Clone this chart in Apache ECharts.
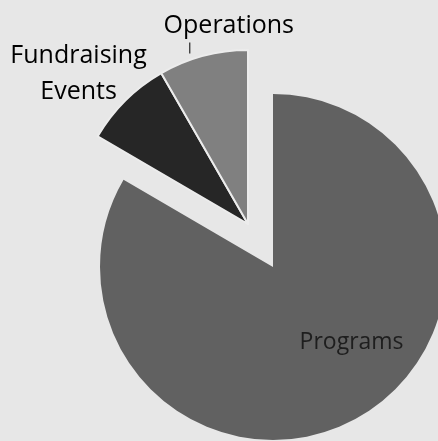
<!DOCTYPE html>
<html>
<head>
<meta charset="utf-8">
<script src="https://cdn.jsdelivr.net/npm/echarts@6/dist/echarts.min.js"></script>
<style>
html,body{margin:0;padding:0;background:#e7e7e7;}
#c{width:438px;height:441px;}
</style>
</head>
<body>
<div id="c"></div>
<script>
const categories = ['Programs', 'Fundraising Events', 'Operations'];
const values = [83.4, 8.3, 8.3];
const colors = ['#616161', '#262626', '#808080'];
const labelNames = ['Programs', 'Fundraising\nEvents', 'Operations'];

const FONT = 'Open Sans';
const FS = 25;
const chart = echarts.init(document.getElementById('c'), null, {renderer: 'canvas'});

function mainData() {
  return categories.map((c, i) => ({
    name: c, value: values[i],
    itemStyle: i === 0 ? {color: colors[i]} : {color: 'rgba(0,0,0,0)'},
    label: i === 0 ? {show: true, position: 'inside', offset: [34, -2], formatter: labelNames[i], color: '#1e1e1e', fontSize: 23, fontFamily: FONT} : {show: false}
  }));
}
function explodedData() {
  return categories.map((c, i) => {
    if (i === 0) return {name: c, value: values[i], itemStyle: {color: 'rgba(0,0,0,0)', borderWidth: 0}, label: {show: false}};
    const lab = i === 1
      ? {show: true, position: 'inside', offset: [-106, -86], formatter: labelNames[i], color: '#000', fontSize: FS, lineHeight: 36, fontFamily: FONT, align: 'center'}
      : {show: true, position: 'inside', offset: [4, -106], formatter: '{a|Operations}\n{t|}{s|}', color: '#000', fontSize: FS, fontFamily: FONT,
         rich: {a: {fontSize: FS, fontFamily: FONT, color: '#000', lineHeight: 34}, t: {width: 1, height: 11, backgroundColor: '#000'}, s: {width: 78, height: 11}}};
    return {name: c, value: values[i], itemStyle: {color: colors[i], borderColor: '#ececec', borderWidth: 2}, label: lab};
  });
}

chart.setOption({
  backgroundColor: '#e7e7e7',
  animation: false,
  series: [
    {type: 'pie', center: [273, 267], radius: [0, 173], startAngle: 90, clockwise: true,
     avoidLabelOverlap: false, labelLine: {show: false}, data: mainData(), silent: true},
    {type: 'pie', center: [248, 224], radius: [0, 174], startAngle: 90, clockwise: true,
     avoidLabelOverlap: false, labelLine: {show: false}, data: explodedData(), silent: true}
  ]
});
</script>
</body>
</html>
